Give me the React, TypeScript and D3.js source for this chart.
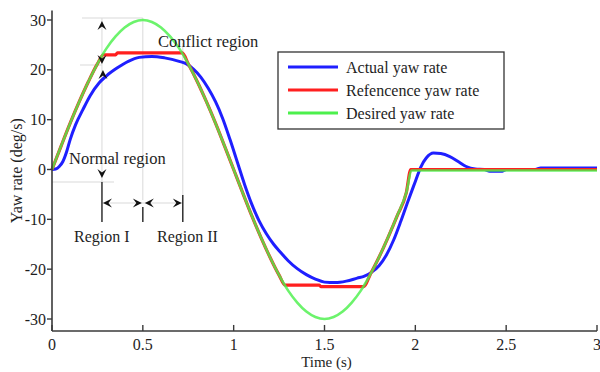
import React from "react";
import * as d3 from "d3";

// ---- data ----
const desiredT = [0, 0.05, 0.1, 0.15, 0.2, 0.25, 0.3, 0.35, 0.4, 0.45, 0.5, 0.55, 0.6, 0.65, 0.7, 0.75, 0.8, 0.85, 0.9, 0.95, 1.0,
  1.05, 1.1, 1.15, 1.2, 1.25, 1.3, 1.35, 1.4, 1.45, 1.5, 1.55, 1.6, 1.65, 1.7, 1.75, 1.8, 1.85, 1.9, 1.95, 1.98, 3.0];
const desiredV = [0, 4.7, 9.3, 13.6, 17.6, 21.2, 24.3, 26.7, 28.5, 29.6, 30, 29.6, 28.5, 26.7, 24.3, 21.2, 17.6, 13.6, 9.3, 4.7, 0,
  -4.7, -9.3, -13.6, -17.6, -21.2, -24.3, -26.7, -28.5, -29.6, -30, -29.6, -28.5, -26.7, -24.3, -21.2, -17.6, -13.6, -9.3, -4.7, -0.2, -0.2];

const referenceT = [0, 0.05, 0.1, 0.15, 0.2, 0.25, 0.283, 0.35, 0.36, 0.717, 0.75, 0.8, 0.85, 0.9, 0.95, 1.0,
  1.05, 1.1, 1.15, 1.2, 1.25, 1.283, 1.47, 1.48, 1.717, 1.75, 1.8, 1.85, 1.9, 1.95, 1.975, 3.0];
const referenceV = [0, 4.7, 9.3, 13.6, 17.6, 21.2, 23.0, 23.0, 23.4, 23.4, 21.2, 17.6, 13.6, 9.3, 4.7, 0,
  -4.7, -9.3, -13.6, -17.6, -21.2, -23.2, -23.2, -23.5, -23.5, -21.2, -17.6, -13.6, -9.3, -4.7, 0, 0];

const actualT = [0, 0.02, 0.04, 0.06, 0.08, 0.1, 0.13, 0.17, 0.21, 0.26, 0.3, 0.36, 0.42, 0.48, 0.55, 0.62, 0.7, 0.74, 0.78, 0.82,
  0.86, 0.9, 0.94, 0.98, 1.02, 1.06, 1.1, 1.14, 1.18, 1.22, 1.26, 1.3, 1.35, 1.4, 1.45, 1.5, 1.56, 1.62, 1.68, 1.72, 1.76, 1.8,
  1.84, 1.88, 1.92, 1.96, 2.0, 2.03, 2.06, 2.1, 2.14, 2.19, 2.24, 2.28, 2.33, 2.38, 2.41, 2.48, 2.5, 2.66, 2.69, 3.0];
const actualV = [0, 0.1, 0.6, 1.6, 3.5, 6, 9, 12, 14.8, 17.4, 18.8, 20.4, 21.7, 22.5, 22.7, 22.4, 21.7, 21.2, 20.1, 18.5,
  16.3, 13.6, 10.2, 6, 1.5, -3, -7, -10.3, -12.9, -15, -16.7, -18.3, -19.9, -21.1, -22, -22.6, -22.7, -22.4, -21.8, -21.4, -20.6, -19.3,
  -17.2, -14.2, -10.4, -6.3, -2.4, 0.5, 2.3, 3.3, 3.2, 2.6, 1.5, 0.6, 0.1, 0, -0.35, -0.35, 0, 0, 0.3, 0.3];

const xTicks = [0, 0.5, 1, 1.5, 2, 2.5, 3];
const xTickLabels = ["0", "0.5", "1", "1.5", "2", "2.5", "3"];
const yTicks = [-30, -20, -10, 0, 10, 20, 30];
const yTickLabels = ["-30", "-20", "-10", "0", "10", "20", "30"];

const legendLabels = ["Actual yaw rate", "Refencence yaw rate", "Desired yaw rate"];
const colors = ["#1f1fff", "#ff1f1f", "#4cf04c"];

const FONT = "'Liberation Serif', 'Times New Roman', serif";

function Arrowhead({ x, y, dir }: { x: number; y: number; dir: "up" | "down" | "left" | "right" }) {
  const rot = { up: 0, right: 90, down: 180, left: 270 }[dir];
  return (
    <path
      d="M0,0 L4.5,9 L0,5.5 L-4.5,9 Z"
      transform={`translate(${x},${y}) rotate(${rot})`}
      fill="#111"
    />
  );
}

export default function App() {
  const W = 600, H = 372;
  const x = d3.scaleLinear().domain([0, 3]).range([52, 597]);
  const y = d3.scaleLinear().domain([-30, 30]).range([319, 20]);
  const axisBottom = y(-32.4);
  const axisTop = y(31.9);

  const line = (ts: number[], vs: number[]) =>
    d3.line<number>()
      .x((_, i) => x(ts[i]))
      .y((v) => y(v))
      .curve(d3.curveMonotoneX)(vs) || "";

  const tA = 0.275, tB = 0.5, tC = 0.72;
  const grid = "#d9d9d9";
  const axisCol = "#3a3a3a";
  const txt = "#1e1e1e";

  return (
    <svg width={W} height={H} style={{ position: "absolute", left: 0, top: 0, background: "#fff" }} fontFamily={FONT}>
      <rect x={0} y={0} width={W} height={H} fill="#fff" />

      {/* faint annotation guide lines */}
      <g stroke={grid} strokeWidth={1} fill="none">
        <line x1={x(tB)} x2={x(tB)} y1={18} y2={200} />
        <line x1={x(tC)} x2={x(tC)} y1={43} y2={196} />
        <line x1={x(tA)} x2={x(tA)} y1={18} y2={182} />
        <line x1={82} x2={x(tB)} y1={18} y2={18} />
        <line x1={52} x2={114} y1={182} y2={182} />
        <line x1={80} x2={x(tA)} y1={65} y2={65} />
        <line x1={x(tA)} x2={x(tC)} y1={203} y2={203} />
      </g>

      {/* curves */}
      <path d={line(actualT, actualV)} fill="none" stroke={colors[0]} strokeWidth={3} />
      <path d={line(referenceT, referenceV)} fill="none" stroke={colors[1]} strokeWidth={3.2} />
      <path d={line(desiredT, desiredV)} fill="none" stroke={colors[2]} strokeWidth={2.6} strokeOpacity={0.82} />

      {/* axes */}
      <line x1={52} x2={52} y1={axisTop} y2={axisBottom} stroke={axisCol} strokeWidth={1.6} />
      <line x1={52} x2={x(3)} y1={axisBottom} y2={axisBottom} stroke={axisCol} strokeWidth={1.6} />
      {xTicks.map((t, i) => (
        <g key={"xt" + i}>
          <line x1={x(t)} x2={x(t)} y1={axisBottom} y2={axisBottom - 6} stroke={axisCol} strokeWidth={1.4} />
          <text x={x(t)} y={350} textAnchor="middle" fontSize={16} fill={txt}>{xTickLabels[i]}</text>
        </g>
      ))}
      {yTicks.map((v, i) => (
        <g key={"yt" + i}>
          <line x1={47} x2={52} y1={y(v)} y2={y(v)} stroke={axisCol} strokeWidth={1.4} />
          <text x={46} y={y(v) + 5.5} textAnchor="end" fontSize={16} fill={txt}>{yTickLabels[i]}</text>
        </g>
      ))}
      <text x={x(1.5) + 2} y={367} textAnchor="middle" fontSize={15} fill={txt}>Time (s)</text>
      <text transform={`translate(22,${(axisTop + axisBottom) / 2}) rotate(-90)`} textAnchor="middle" fontSize={16} fill={txt}>
        Yaw rate (deg/s)
      </text>

      {/* annotations */}
      <g stroke="#222" strokeWidth={1.4}>
        <line x1={x(tA)} x2={x(tA)} y1={182} y2={222} />
        <line x1={x(tB)} x2={x(tB)} y1={207} y2={222} />
        <line x1={x(tC)} x2={x(tC)} y1={195} y2={222} />
      </g>
      <Arrowhead x={x(tA)} y={21} dir="up" />
      <Arrowhead x={x(tA)} y={64} dir="down" />
      <Arrowhead x={x(tA) + 1} y={70} dir="up" />
      <Arrowhead x={x(tA)} y={178} dir="down" />
      <Arrowhead x={x(tA) + 1} y={203} dir="left" />
      <Arrowhead x={x(tB) - 1} y={203} dir="right" />
      <Arrowhead x={x(tB) + 2} y={203} dir="left" />
      <Arrowhead x={x(tC) - 1} y={203} dir="right" />

      <text x={158} y={47} fontSize={16.5} fill={txt}>Conflict region</text>
      <text x={69} y={164} fontSize={16.5} fill={txt}>Normal region</text>
      <text x={74} y={242} fontSize={16} fill={txt}>Region I</text>
      <text x={157} y={242} fontSize={16} fill={txt}>Region II</text>

      {/* legend */}
      <rect x={278} y={52} width={226} height={77} fill="#fff" stroke="#333" strokeWidth={1.3} />
      {legendLabels.map((lab, i) => (
        <g key={"lg" + i}>
          <line x1={288} x2={338} y1={67 + i * 23} y2={67 + i * 23} stroke={colors[i]} strokeWidth={3} />
          <text x={346} y={67 + i * 23 + 5.5} fontSize={16} fill={txt}>{lab}</text>
        </g>
      ))}
    </svg>
  );
}
